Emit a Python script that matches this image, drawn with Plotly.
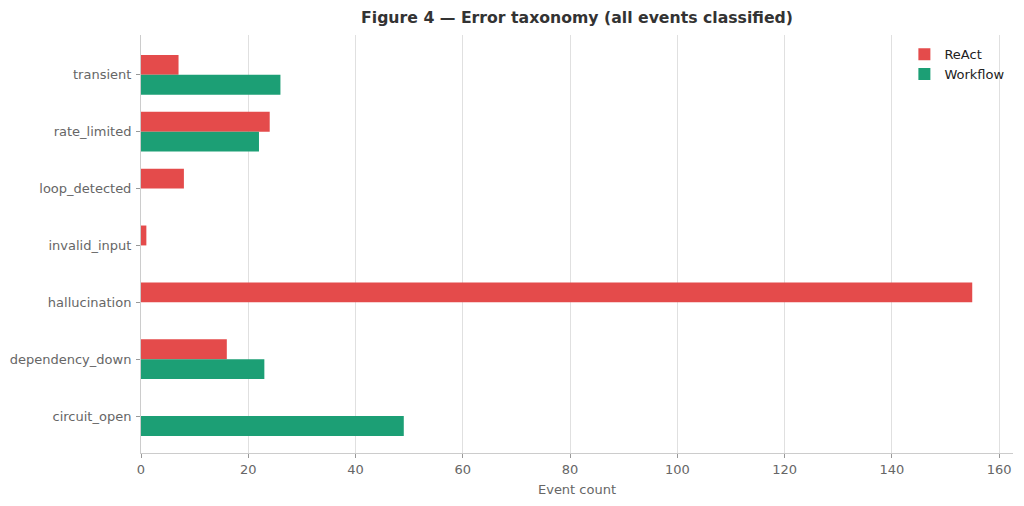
import plotly.graph_objects as go

categories = ["circuit_open", "dependency_down", "hallucination", "invalid_input",
              "loop_detected", "rate_limited", "transient"]
react_counts = [0, 16, 155, 1, 8, 24, 7]
workflow_counts = [49, 23, 0, 0, 0, 22, 26]
x_ticks = [0, 20, 40, 60, 80, 100, 120, 140, 160]

RED = "#E44B4B"
GREEN = "#1C9F75"

W, H = 1008, 490  # page body has 8px margin

fig = go.Figure()
fig.add_trace(go.Bar(
    y=categories, x=react_counts, orientation="h", name="ReAct",
    marker=dict(color=RED, line=dict(width=0)), width=0.35, offset=0,
))
fig.add_trace(go.Bar(
    y=categories, x=workflow_counts, orientation="h", name="Workflow",
    marker=dict(color=GREEN, line=dict(width=0)), width=0.35, offset=-0.35,
))

fig.update_layout(
    width=W, height=H,
    margin=dict(l=133, r=3, t=27, b=45, autoexpand=False),
    paper_bgcolor="white", plot_bgcolor="white",
    barmode="overlay",
    font=dict(family="DejaVu Sans", size=13, color="#666666"),
    title=dict(text="<b>Figure 4 — Error taxonomy (all events classified)</b>",
               x=(133 + 1005) / 2 / W, xanchor="center", y=1 - 9 / H, yanchor="middle",
               font=dict(family="DejaVu Sans", size=15.7, color="#333333")),
    legend=dict(x=0.997, xanchor="right", y=0.99, yanchor="top",
                font=dict(size=13, color="#222222"), bgcolor="rgba(0,0,0,0)",
                itemwidth=30, traceorder="normal", tracegroupgap=0),
    xaxis=dict(range=[0, 162.6], tickvals=x_ticks, showgrid=True, gridcolor="#E0E0E0",
               gridwidth=1, zeroline=False, showline=True, linecolor="#CCCCCC",
               ticks="outside", ticklen=4, tickcolor="#999999", automargin=False,
               title=dict(text="Event count", font=dict(size=13, color="#666666"), standoff=9),
               tickfont=dict(size=13, color="#666666")),
    yaxis=dict(categoryorder="array", categoryarray=categories, range=[-0.65, 6.7],
               showgrid=False, zeroline=False, showline=True, linecolor="#CCCCCC",
               ticks="outside", ticklen=4, tickcolor="#999999", automargin=False,
               ticklabelstandoff=2,
               tickfont=dict(size=13, color="#666666")),
)

fig.write_html("out.html")
